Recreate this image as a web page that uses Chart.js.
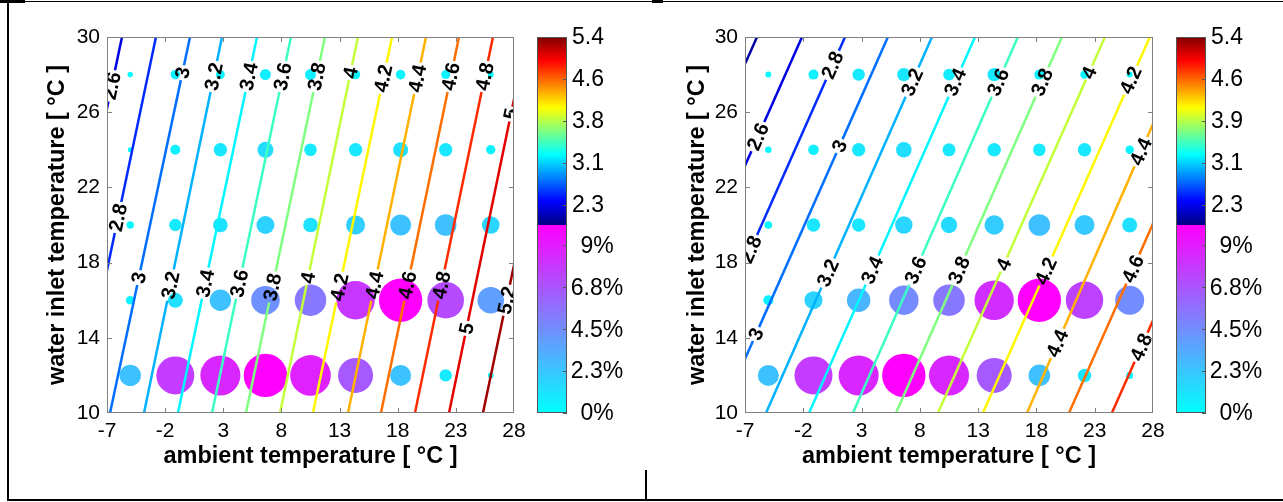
<!DOCTYPE html>
<html>
<head>
<meta charset="utf-8">
<script src="https://cdn.jsdelivr.net/npm/chart.js@4.4.1/dist/chart.umd.min.js"></script>
<style>
  html, body { margin: 0; padding: 0; background: #fff; }
  body { position: relative; width: 1283px; height: 502px; overflow: hidden; }
  .panel { position: absolute; top: 0; height: 502px; }
  .rule { position: absolute; background: #000; }
</style>
</head>
<body>
<div class="rule" style="left:0;top:0;width:25px;height:3px"></div>
<div class="rule" style="left:25px;top:1px;width:1258px;height:1px"></div>
<div class="rule" style="left:652px;top:0;width:11px;height:3px"></div>
<div class="rule" style="left:7px;top:0;width:2px;height:501px"></div>
<div class="rule" style="left:7px;top:499px;width:1276px;height:2px"></div>
<div class="rule" style="left:645px;top:470px;width:2px;height:30px"></div>
<div class="panel" style="left:0;width:640px"><canvas id="left" width="640" height="502"></canvas></div>
<div class="panel" style="left:640px;width:643px"><canvas id="right" width="643" height="502"></canvas></div>
<script>
const FONT = '"Liberation Sans", Arial, Helvetica, sans-serif';
Chart.defaults.font.family = FONT;
Chart.defaults.color = '#000';

// axes
const xTicks = [-7, -2, 3, 8, 13, 18, 23, 28];
const yTicks = [10, 14, 18, 22, 26, 30];

// bubble grid
const ambient = [-5, -1.125, 2.75, 6.625, 10.5, 14.375, 18.25, 22.125, 26];
const waterInlet = [28, 24, 20, 16, 12];

// share of operating time [%], one row per water inlet temperature
const shareLeft = [
  [0.16, 0.47, 0.43, 0.65, 0.65, 0.47, 0.49, 0.43, 0.19],
  [0.13, 0.54, 0.96, 1.37, 0.85, 0.96, 1.21, 0.96, 0.47],
  [0.29, 0.82, 1.14, 1.74, 1.14, 1.94, 2.36, 2.50, 1.66],
  [0.40, 1.21, 2.46, 4.39, 5.35, 7.91, 10.1, 7.18, 3.79],
  [2.46, 7.74, 8.58, 10.1, 8.84, 6.57, 2.36, 0.82, 0.17]
];
const shareRight = [
  [0.19, 0.54, 0.82, 0.96, 0.72, 0.96, 0.54, 0.38, 0.19],
  [0.23, 0.60, 0.96, 1.30, 0.91, 0.99, 0.85, 0.96, 0.38],
  [0.31, 0.96, 0.96, 1.62, 1.44, 2.02, 2.50, 2.14, 1.21],
  [0.54, 1.74, 2.94, 4.64, 5.35, 8.32, 10.1, 7.50, 4.51],
  [2.36, 7.74, 8.58, 10.1, 8.58, 6.57, 2.50, 0.96, 0.26]
];

// COP iso-lines: ambient temperature where each level crosses water 10 and 30 °C
const levelsLeft = [2.6, 2.8, 3, 3.2, 3.4, 3.6, 3.8, 4, 4.2, 4.4, 4.6, 4.8, 5, 5.2];
const ambAt10Left = [-12.5, -9.58, -6.74, -3.82, -0.9, 2.03, 4.95, 7.88, 10.71, 13.72, 16.56, 19.48, 22.41, 25.33];
const ambAt30Left = [-5.71, -2.79, 0.14, 2.89, 5.9, 8.82, 11.74, 14.58, 17.51, 20.43, 23.27, 26.19, 29.11, 32.12];
const labelLevelLeft = [2.6, 2.8, 3, 3, 3.2, 3.2, 3.4, 3.4, 3.6, 3.6, 3.8, 3.8, 4, 4, 4.2, 4.2, 4.4, 4.4, 4.6, 4.6, 4.8, 4.8, 5, 5, 5.2];
const labelWaterLeft = [27.4, 20.4, 28.1, 17.2, 27.9, 16.8, 27.9, 16.9, 27.9, 16.9, 27.9, 16.7, 28.1, 17.2, 27.8, 16.7, 27.8, 16.8, 27.9, 16.8, 27.9, 16.8, 25.9, 14.5, 16.0];

const levelsRight = [2.4, 2.6, 2.8, 3, 3.2, 3.4, 3.6, 3.8, 4, 4.2, 4.4, 4.6, 4.8];
const ambAt10Right = [-20.3, -16.4, -12.75, -9.06, -5.2, -1.51, 2.26, 5.95, 9.55, 13.41, 17.19, 20.79, 24.47];
const ambAt30Right = [-5.97, -2.11, 1.58, 5.26, 9.04, 12.73, 16.41, 20.19, 23.88, 27.73, 31.25, 35.11, 38.8];
const labelLevelRight = [2.6, 2.8, 2.8, 3, 3, 3.2, 3.2, 3.4, 3.4, 3.6, 3.6, 3.8, 3.8, 4, 4, 4.2, 4.2, 4.4, 4.4, 4.6, 4.8];
const labelWaterRight = [24.7, 28.5, 18.7, 24.2, 14.2, 27.6, 17.45, 27.6, 17.6, 27.6, 17.6, 27.6, 17.6, 28.1, 17.9, 27.7, 17.55, 23.9, 13.7, 17.66, 13.5];

// colorbars
const copBarMin = 1.93, copBarMax = 5.4;
const copTicks = [5.4, 4.625, 3.85, 3.075, 2.3];
const copLabelsLeft = ['5.4', '4.6', '3.8', '3.1', '2.3'];
const copLabelsRight = ['5.4', '4.6', '3.9', '3.1', '2.3'];
const shareTicks = [0, 2.25, 4.5, 6.75, 9];
const shareLabels = ['0%', '2.3%', '4.5%', '6.8%', '9%'];

const SHARE_MAX = 10.1, BUBBLE_RMAX = 21.7;
const CONTOUR_MIN = 2.3, CONTOUR_MAX = 5.3;
const PLOT_TOP = 37, PLOT_BOTTOM = 413, X_AXIS_H = 89;
const LABEL_FONT = 'bold 20px ' + FONT;

const clamp01 = v => Math.max(0, Math.min(1, v));
function jet(f) {
  const c = t => Math.round(255 * clamp01(1.5 - Math.abs(4 * f - t)));
  return 'rgb(' + c(3) + ',' + c(2) + ',' + c(1) + ')';
}
function cool(f) {
  f = clamp01(f);
  return 'rgb(' + Math.round(255 * f) + ',' + Math.round(255 * (1 - f)) + ',255)';
}

const measure = document.createElement('canvas').getContext('2d');
measure.font = LABEL_FONT;

function makeDecor(p) {
  return {
    id: 'decor',
    afterDatasetsDraw(chart) {
      const {ctx, chartArea: a, scales: {x, y}} = chart;
      ctx.save();
      ctx.beginPath();
      ctx.rect(a.left, a.top, a.right - a.left, a.bottom - a.top);
      ctx.clip();
      ctx.font = LABEL_FONT;
      ctx.fillStyle = '#000';
      ctx.textAlign = 'center';
      ctx.textBaseline = 'middle';
      p.labelLevels.forEach((lev, j) => {
        const i = p.levels.indexOf(lev);
        const xb = p.at10[i], xt = p.at30[i], w = p.labelWater[j];
        const px = x.getPixelForValue(xb + (xt - xb) * (w - 10) / 20);
        const py = y.getPixelForValue(w);
        const ang = Math.atan2(y.getPixelForValue(30) - y.getPixelForValue(10),
                               x.getPixelForValue(xt) - x.getPixelForValue(xb));
        ctx.save();
        ctx.translate(px, py);
        ctx.rotate(ang);
        ctx.fillText(String(lev), 0, 1);
        ctx.restore();
      });
      ctx.restore();
    },
    afterDraw(chart) {
      const {ctx, chartArea: a, scales: {x, y}} = chart;
      ctx.save();
      // axes box with inward ticks
      ctx.strokeStyle = '#808080';
      ctx.lineWidth = 1;
      ctx.strokeRect(a.left + 0.5, a.top + 0.5, a.right - a.left - 1, a.bottom - a.top - 1);
      ctx.beginPath();
      xTicks.slice(1, -1).forEach(v => {
        const px = Math.round(x.getPixelForValue(v)) + 0.5;
        ctx.moveTo(px, a.bottom); ctx.lineTo(px, a.bottom - 5);
        ctx.moveTo(px, a.top); ctx.lineTo(px, a.top + 5);
      });
      yTicks.slice(1, -1).forEach(v => {
        const py = Math.round(y.getPixelForValue(v)) + 0.5;
        ctx.moveTo(a.left, py); ctx.lineTo(a.left + 5, py);
        ctx.moveTo(a.right, py); ctx.lineTo(a.right - 5, py);
      });
      ctx.stroke();

      // colorbar: COP (jet) on top, share (cool) below
      const bx = a.right + 23, bw = 30, top = a.top, bot = a.bottom, mid = (top + bot) / 2;
      const gTop = ctx.createLinearGradient(0, mid, 0, top);
      [0, 0.125, 0.375, 0.625, 0.875, 1].forEach(f => gTop.addColorStop(f, jet(f)));
      ctx.fillStyle = gTop;
      ctx.fillRect(bx, top, bw, mid - top);
      const gBot = ctx.createLinearGradient(0, bot, 0, mid);
      gBot.addColorStop(0, cool(0));
      gBot.addColorStop(1, cool(1));
      ctx.fillStyle = gBot;
      ctx.fillRect(bx, mid, bw, bot - mid);
      ctx.strokeStyle = '#555';
      ctx.strokeRect(bx + 0.5, top + 0.5, bw - 1, bot - top - 1);

      ctx.font = '23px ' + FONT;
      ctx.fillStyle = '#000';
      ctx.textBaseline = 'middle';
      ctx.beginPath();
      copTicks.forEach((v, k) => {
        const ty = mid - (v - copBarMin) / (copBarMax - copBarMin) * (mid - top);
        ctx.moveTo(bx + bw, Math.round(ty) + 0.5); ctx.lineTo(bx + bw - 4, Math.round(ty) + 0.5);
        ctx.textAlign = 'left';
        ctx.fillText(p.copLabels[k], bx + bw + 5, ty + 1);
      });
      shareTicks.forEach((v, k) => {
        const ty = bot - v / SHARE_MAX * (bot - mid);
        ctx.moveTo(bx + bw, Math.round(ty) + 0.5); ctx.lineTo(bx + bw - 4, Math.round(ty) + 0.5);
        ctx.textAlign = 'center';
        ctx.fillText(shareLabels[k], bx + bw + 30, ty + 1);
      });
      ctx.stroke();
      ctx.restore();
    }
  };
}

function makePanel(id, p) {
  const pxX = (p.plotRight - p.plotLeft) / (xTicks[xTicks.length - 1] - xTicks[0]);
  const pxY = (PLOT_BOTTOM - PLOT_TOP) / (yTicks[yTicks.length - 1] - yTicks[0]);

  const points = [];
  waterInlet.forEach((w, r) => ambient.forEach((amb, c) => points.push({x: amb, y: w, v: p.share[r][c]})));
  const datasets = [{
    type: 'bubble',
    data: points,
    order: 2,
    borderWidth: 0,
    backgroundColor: ctx => cool((ctx.raw ? ctx.raw.v : 0) / SHARE_MAX),
    radius: ctx => Math.max(2.5, BUBBLE_RMAX * Math.sqrt((ctx.raw ? ctx.raw.v : 0) / SHARE_MAX))
  }];

  // each iso-line is cut where its labels sit
  p.levels.forEach((lev, i) => {
    const xb = p.at10[i], xt = p.at30[i];
    const xAt = w => xb + (xt - xb) * (w - 10) / 20;
    const lenPx = Math.hypot((xt - xb) * pxX, 20 * pxY);
    const half = (measure.measureText(String(lev)).width / 2 + 2) * 20 / lenPx;
    const cuts = p.labelLevels.map((l, j) => l === lev ? p.labelWater[j] : null)
      .filter(w => w !== null).sort((m, n) => m - n);
    let from = 10;
    const pieces = [];
    cuts.forEach(w => { pieces.push([from, w - half]); from = w + half; });
    pieces.push([from, 30]);
    pieces.forEach(([w0, w1]) => {
      datasets.push({
        type: 'line',
        data: [{x: xAt(w0), y: w0}, {x: xAt(w1), y: w1}],
        borderColor: jet((lev - CONTOUR_MIN) / (CONTOUR_MAX - CONTOUR_MIN)),
        borderWidth: 2.5,
        pointRadius: 0,
        clip: 0,
        order: 1
      });
    });
  });

  new Chart(document.getElementById(id), {
    type: 'bubble',
    data: {datasets},
    options: {
      responsive: false,
      animation: false,
      events: [],
      layout: {padding: {left: 0, top: PLOT_TOP, right: p.canvasW - p.plotRight, bottom: 0}},
      plugins: {legend: {display: false}, tooltip: {enabled: false}},
      scales: {
        x: {
          type: 'linear', min: xTicks[0], max: xTicks[xTicks.length - 1],
          afterBuildTicks: s => { s.ticks = xTicks.map(v => ({value: v})); },
          afterFit: s => { s.height = X_AXIS_H; },
          grid: {display: false, drawTicks: false},
          border: {display: false},
          ticks: {font: {size: 21}, color: '#000', padding: 6, maxRotation: 0, autoSkip: false},
          title: {display: true, text: 'ambient temperature [ °C ]', color: '#000',
                  font: {size: 23.5, weight: 'bold'}, padding: {top: 0, bottom: 31}}
        },
        y: {
          type: 'linear', min: yTicks[0], max: yTicks[yTicks.length - 1],
          afterBuildTicks: s => { s.ticks = yTicks.map(v => ({value: v})); },
          afterFit: s => { s.width = p.plotLeft; },
          grid: {display: false, drawTicks: false},
          border: {display: false},
          ticks: {font: {size: 21}, color: '#000', padding: 7, autoSkip: false},
          title: {display: true, text: 'water inlet temperature [ °C ]', color: '#000',
                  font: {size: 23.5, weight: 'bold'}, padding: {top: 43, bottom: 0}}
        }
      }
    },
    plugins: [makeDecor(p)]
  });
}

makePanel('left', {
  canvasW: 640, plotLeft: 107, plotRight: 514,
  share: shareLeft, levels: levelsLeft, at10: ambAt10Left, at30: ambAt30Left,
  labelLevels: labelLevelLeft, labelWater: labelWaterLeft, copLabels: copLabelsLeft
});
makePanel('right', {
  canvasW: 643, plotLeft: 105, plotRight: 513,
  share: shareRight, levels: levelsRight, at10: ambAt10Right, at30: ambAt30Right,
  labelLevels: labelLevelRight, labelWater: labelWaterRight, copLabels: copLabelsRight
});
</script>
</body>
</html>
